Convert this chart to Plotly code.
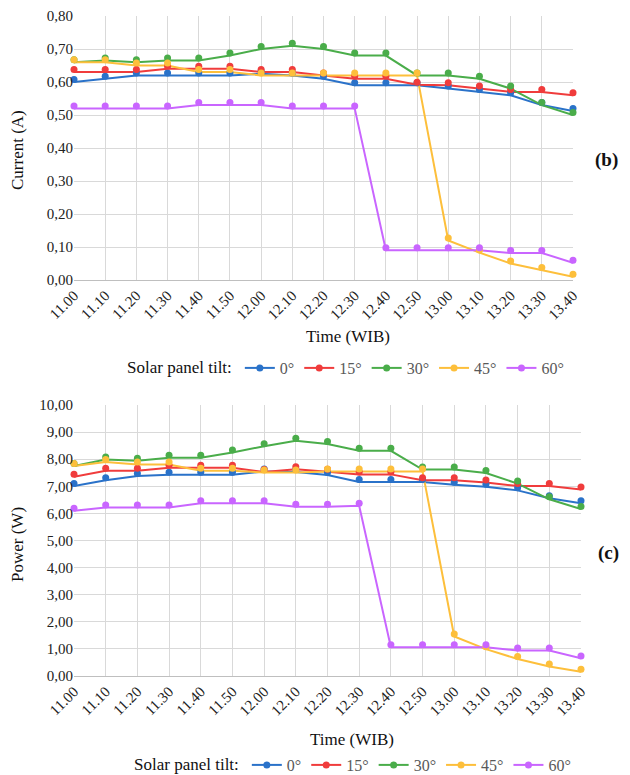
import plotly.graph_objects as go

times = ["11.00", "11.10", "11.20", "11.30", "11.40", "11.50", "12.00", "12.10", "12.20",
         "12.30", "12.40", "12.50", "13.00", "13.10", "13.20", "13.30", "13.40"]
tilts = ["0°", "15°", "30°", "45°", "60°"]
colors = ["#2a72c9", "#f03c3c", "#4aad4a", "#fdbf3b", "#c965ff"]

current_0 = [0.600, 0.610, 0.620, 0.620, 0.620, 0.620, 0.625, 0.620, 0.610, 0.590, 0.590, 0.590, 0.580, 0.570, 0.560, 0.530, 0.512]
current_15 = [0.630, 0.630, 0.630, 0.640, 0.640, 0.640, 0.630, 0.630, 0.620, 0.610, 0.610, 0.592, 0.590, 0.580, 0.570, 0.570, 0.560]
current_30 = [0.660, 0.665, 0.660, 0.665, 0.665, 0.680, 0.700, 0.710, 0.700, 0.680, 0.680, 0.620, 0.620, 0.610, 0.580, 0.530, 0.500]
current_45 = [0.660, 0.660, 0.650, 0.650, 0.630, 0.630, 0.620, 0.620, 0.620, 0.620, 0.620, 0.620, 0.120, 0.083, 0.050, 0.030, 0.010]
current_60 = [0.520, 0.520, 0.520, 0.520, 0.530, 0.530, 0.530, 0.520, 0.520, 0.520, 0.090, 0.090, 0.090, 0.090, 0.082, 0.082, 0.052]

power_0 = [7.01, 7.22, 7.38, 7.43, 7.43, 7.43, 7.55, 7.53, 7.42, 7.16, 7.16, 7.16, 7.06, 6.98, 6.85, 6.56, 6.37]
power_15 = [7.35, 7.57, 7.57, 7.68, 7.68, 7.68, 7.53, 7.63, 7.54, 7.44, 7.44, 7.22, 7.22, 7.14, 7.01, 7.01, 6.88]
power_30 = [7.75, 7.99, 7.94, 8.05, 8.05, 8.25, 8.48, 8.68, 8.56, 8.31, 8.31, 7.62, 7.62, 7.49, 7.10, 6.52, 6.16]
power_45 = [7.75, 7.90, 7.80, 7.80, 7.57, 7.57, 7.51, 7.51, 7.55, 7.55, 7.55, 7.55, 1.46, 0.99, 0.63, 0.35, 0.16]
power_60 = [6.10, 6.22, 6.22, 6.22, 6.37, 6.37, 6.37, 6.25, 6.25, 6.28, 1.06, 1.06, 1.06, 1.06, 0.94, 0.94, 0.65]

current_series = [current_0, current_15, current_30, current_45, current_60]
power_series = [power_0, power_15, power_30, power_45, power_60]

# the page body has an 8px margin: size the figure to fill the rest of the window
PAGE_W, PAGE_H = 630, 775
OFF = 8
W, H = PAGE_W - OFF, PAGE_H - OFF
FONT = "Liberation Serif"

def px(x):   # page x -> paper fraction
    return (x - OFF) / W

def py(y):   # page y -> paper fraction
    return 1 - (y - OFF) / H

# geometry in page pixels
top_y = (16, 280)
bot_y = (405, 676)
top_x = (74, 573)
bot_x = (74, 581)

MARK_SHIFT_PX = 2.5
cur_range = [0, 0.8]
pow_range = [0, 10]
cur_shift = MARK_SHIFT_PX * (cur_range[1] - cur_range[0]) / (top_y[1] - top_y[0])
pow_shift = MARK_SHIFT_PX * (pow_range[1] - pow_range[0]) / (bot_y[1] - bot_y[0])

fig = go.Figure()

for i, (name, col) in enumerate(zip(tilts, colors)):
    # upper chart
    fig.add_trace(go.Scatter(x=times, y=current_series[i], mode="lines", line=dict(color=col, width=2),
                             xaxis="x", yaxis="y", showlegend=False, cliponaxis=False, hoverinfo="skip"))
    fig.add_trace(go.Scatter(x=times, y=current_series[i], mode="markers", marker=dict(color=col, size=7),
                             xaxis="x", yaxis="y3", showlegend=False, cliponaxis=False))
    fig.add_trace(go.Scatter(x=[None], y=[None], mode="lines+markers", name=name,
                             line=dict(color=col, width=2), marker=dict(color=col, size=7),
                             xaxis="x", yaxis="y", legend="legend"))
    # lower chart
    fig.add_trace(go.Scatter(x=times, y=power_series[i], mode="lines", line=dict(color=col, width=2),
                             xaxis="x2", yaxis="y2", showlegend=False, cliponaxis=False, hoverinfo="skip"))
    fig.add_trace(go.Scatter(x=times, y=power_series[i], mode="markers", marker=dict(color=col, size=7),
                             xaxis="x2", yaxis="y4", showlegend=False, cliponaxis=False))
    fig.add_trace(go.Scatter(x=[None], y=[None], mode="lines+markers", name=name,
                             line=dict(color=col, width=2), marker=dict(color=col, size=7),
                             xaxis="x2", yaxis="y2", legend="legend2"))

grid = "#d9d9d9"
xcommon = dict(type="category", range=[0, len(times) - 1], tickangle=-45, showgrid=True, gridcolor=grid,
               gridwidth=1, showline=True, linecolor="#bfbfbf", linewidth=1, ticks="", automargin=False,
               tickfont=dict(family=FONT, size=15, color="#222"), mirror=False)
ycommon = dict(showgrid=True, gridcolor=grid, gridwidth=1, showline=False, ticks="", zeroline=False,
               automargin=False, tickformat=".2f", tickfont=dict(family=FONT, size=15, color="#222"))

legend_common = dict(orientation="h", xanchor="center", yanchor="middle", itemwidth=30,
                     traceorder="normal", bgcolor="rgba(0,0,0,0)",
                     title=dict(text="Solar panel tilt:", side="left",
                                font=dict(family=FONT, size=17, color="#111")),
                     font=dict(family=FONT, size=16, color="#595959"))

fig.update_layout(
    width=W, height=H,
    margin=dict(l=0, r=0, t=0, b=0, autoexpand=False),
    paper_bgcolor="white", plot_bgcolor="white",
    separators=",.",
    xaxis=dict(domain=[px(top_x[0]), px(top_x[1])], anchor="y", categoryarray=times, **xcommon),
    yaxis=dict(domain=[py(top_y[1]), py(top_y[0])], anchor="x", range=cur_range, dtick=0.1, **ycommon),
    yaxis3=dict(overlaying="y", anchor="x", range=[cur_range[0] - cur_shift, cur_range[1] - cur_shift],
                visible=False, showgrid=False, automargin=False),
    xaxis2=dict(domain=[px(bot_x[0]), px(bot_x[1])], anchor="y2", categoryarray=times, **xcommon),
    yaxis2=dict(domain=[py(bot_y[1]), py(bot_y[0])], anchor="x2", range=pow_range, dtick=1, **ycommon),
    yaxis4=dict(overlaying="y2", anchor="x2", range=[pow_range[0] - pow_shift, pow_range[1] - pow_shift],
                visible=False, showgrid=False, automargin=False),
    legend=dict(x=px(347), y=py(368), **legend_common),
    legend2=dict(x=px(354), y=py(765), **legend_common),
)

ann_font = dict(family=FONT, size=17, color="#111")
fig.add_annotation(text="Current (A)", x=px(18), y=py(150), xref="paper", yref="paper",
                   textangle=-90, showarrow=False, font=ann_font, xanchor="center", yanchor="middle")
fig.add_annotation(text="Power (W)", x=px(17), y=py(545), xref="paper", yref="paper",
                   textangle=-90, showarrow=False, font=ann_font, xanchor="center", yanchor="middle")
fig.add_annotation(text="Time (WIB)", x=px(348), y=py(336), xref="paper", yref="paper",
                   showarrow=False, font=ann_font, xanchor="center", yanchor="middle")
fig.add_annotation(text="Time (WIB)", x=px(352), y=py(739), xref="paper", yref="paper",
                   showarrow=False, font=ann_font, xanchor="center", yanchor="middle")
fig.add_annotation(text="<b>(b)</b>", x=px(620), y=py(160), xref="paper", yref="paper",
                   showarrow=False, font=dict(family=FONT, size=19, color="#111"), xanchor="right", yanchor="middle")
fig.add_annotation(text="<b>(c)</b>", x=px(621), y=py(553), xref="paper", yref="paper",
                   showarrow=False, font=dict(family=FONT, size=19, color="#111"), xanchor="right", yanchor="middle")

fig.write_html("out.html")
